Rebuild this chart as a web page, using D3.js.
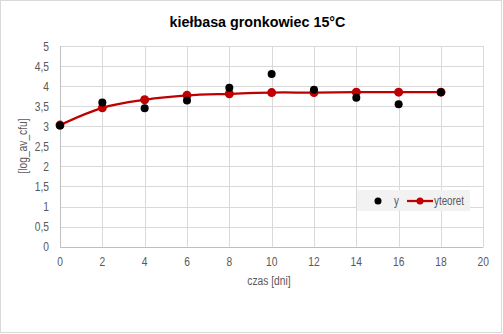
<!DOCTYPE html>
<html>
<head>
<meta charset="utf-8">
<script src="https://cdn.jsdelivr.net/npm/d3@7"></script>
<style>
  body { margin: 0; background: #fff; }
  text { font-family: "Liberation Sans Narrow", "Arial Narrow", "Liberation Sans", Arial, sans-serif; }
</style>
</head>
<body>
<div id="chart"></div>
<script>
// data
const days = [0, 2, 4, 6, 8, 10, 12, 14, 16, 18];
const yMeasured = [3.02, 3.59, 3.45, 3.64, 3.96, 4.30, 3.91, 3.71, 3.55, 3.85];
const yTheory = [3.03, 3.46, 3.66, 3.77, 3.81, 3.84, 3.84, 3.85, 3.85, 3.85];
const xTicks = [0, 2, 4, 6, 8, 10, 12, 14, 16, 18, 20];
const yTicks = [0, 0.5, 1, 1.5, 2, 2.5, 3, 3.5, 4, 4.5, 5];

const width = 503, height = 334;
const narrow = 0.82; // squeeze text horizontally, Excel uses a narrow face here

const svg = d3.select('#chart').append('svg')
    .attr('width', width)
    .attr('height', height);

// outer chart frame
svg.append('rect')
    .attr('x', 0.5).attr('y', 0.5)
    .attr('width', width - 2).attr('height', height - 2)
    .attr('fill', '#fff')
    .attr('stroke', '#d9d9d9');

const x = d3.scaleLinear().domain([0, 20]).range([60, 483.3]);
const y = d3.scaleLinear().domain([0, 5]).range([246.7, 46]);

// helper: narrow text placed at (px, py)
function label(g, px, py, txt, anchor, size, rotate) {
    return g.append('text')
        .attr('transform', `translate(${px},${py})` + (rotate ? ` rotate(${rotate})` : '') + ` scale(${narrow},1)`)
        .attr('text-anchor', anchor)
        .attr('font-size', size)
        .attr('fill', '#595959')
        .text(txt);
}

// gridlines
svg.append('g')
    .selectAll('line')
    .data(xTicks)
    .enter().append('line')
    .attr('x1', d => Math.round(x(d)) + 0.5).attr('x2', d => Math.round(x(d)) + 0.5)
    .attr('y1', y(5)).attr('y2', y(0))
    .attr('stroke', '#d9d9d9');

svg.append('g')
    .selectAll('line')
    .data(yTicks)
    .enter().append('line')
    .attr('x1', x(0)).attr('x2', x(20))
    .attr('y1', d => Math.round(y(d)) + 0.5).attr('y2', d => Math.round(y(d)) + 0.5)
    .attr('stroke', '#d9d9d9');

// axes lines
svg.append('line')
    .attr('x1', x(0)).attr('x2', x(20))
    .attr('y1', Math.round(y(0)) + 0.5).attr('y2', Math.round(y(0)) + 0.5)
    .attr('stroke', '#bfbfbf');
svg.append('line')
    .attr('x1', Math.round(x(0)) + 0.5).attr('x2', Math.round(x(0)) + 0.5)
    .attr('y1', y(0)).attr('y2', y(5))
    .attr('stroke', '#bfbfbf');

// tick labels
const fmt = d => String(d).replace('.', ',');
const xLabels = svg.append('g');
xTicks.forEach(d => label(xLabels, x(d), 266, fmt(d), 'middle', 12.5));

const yLabels = svg.append('g');
yTicks.forEach(d => label(yLabels, 49, y(d) + 4.5, fmt(d), 'end', 12.5));

// axis titles
label(svg, 269, 285, 'czas  [dni]', 'middle', 12.5);
label(svg, 27, 146, '[log_av_cfu]', 'middle', 12.5, -90);

// title
svg.append('text')
    .attr('x', 257.5)
    .attr('y', 27)
    .attr('text-anchor', 'middle')
    .attr('font-size', 14.3)
    .attr('font-weight', 'bold')
    .attr('fill', '#000')
    .text('kiełbasa gronkowiec 15°C');

// theoretical curve
const line = d3.line()
    .x((d, i) => x(days[i]))
    .y(d => y(d))
    .curve(d3.curveCatmullRom.alpha(0.5));

svg.append('path')
    .datum(yTheory)
    .attr('d', line)
    .attr('fill', 'none')
    .attr('stroke', '#c00000')
    .attr('stroke-width', 2.25);

svg.append('g')
    .selectAll('circle')
    .data(yTheory)
    .enter().append('circle')
    .attr('cx', (d, i) => x(days[i]))
    .attr('cy', d => y(d))
    .attr('r', 4.5)
    .attr('fill', '#c00000');

// measured points
svg.append('g')
    .selectAll('circle')
    .data(yMeasured)
    .enter().append('circle')
    .attr('cx', (d, i) => x(days[i]))
    .attr('cy', d => y(d))
    .attr('r', 4)
    .attr('fill', '#000');

// legend
const legend = svg.append('g');
legend.append('rect')
    .attr('x', 357).attr('y', 190)
    .attr('width', 113).attr('height', 21)
    .attr('fill', '#f2f2f2');
legend.append('circle')
    .attr('cx', 378).attr('cy', 201).attr('r', 3.5)
    .attr('fill', '#000');
label(legend, 394, 205, 'y', 'start', 12);
legend.append('line')
    .attr('x1', 407).attr('x2', 433)
    .attr('y1', 201).attr('y2', 201)
    .attr('stroke', '#c00000').attr('stroke-width', 2.25);
legend.append('circle')
    .attr('cx', 420).attr('cy', 201).attr('r', 3.5)
    .attr('fill', '#c00000');
label(legend, 434, 205, 'yteoret', 'start', 12);
</script>
</body>
</html>
